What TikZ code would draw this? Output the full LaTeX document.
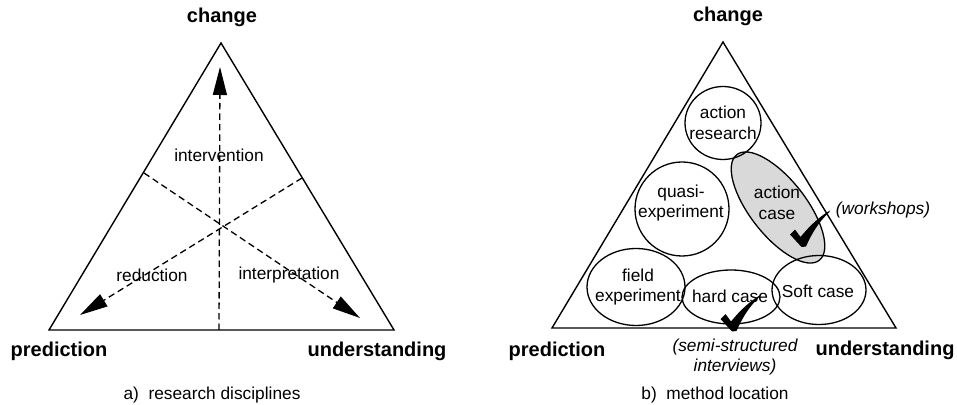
\documentclass[tikz,border=0pt]{standalone}
\usepackage{fontspec}
\setmainfont{Liberation Sans}
\usetikzlibrary{arrows.meta, shapes.geometric}
\tikzset{
    x=1pt, y=1pt,
    pole/.style={font=\fontsize{20}{24}\selectfont\bfseries},
    region/.style={font=\fontsize{17.3}{20.5}\selectfont, align=center, inner sep=0pt},
    note/.style={font=\fontsize{17.3}{20}\selectfont\itshape, align=center, inner sep=0pt},
    method/.style={draw, ellipse, line width=1.3pt, inner sep=0pt},
    side/.style={line width=1.4pt, line join=miter},
    axis/.style={line width=1.3pt, dash pattern=on 6.5pt off 4pt, -{Triangle[length=28pt,width=14pt]}},
    checkmk/.pic={
        \fill (0,0) -- (-11.5,12.5) -- (-6.5,17.5) -- (-1,10)
            .. controls (8,21) and (18,30.5) .. (28.5,36.5)
            -- (27.8,34.8) .. controls (17,25) and (10,13) .. (4.5,0.5) -- cycle;
    },
}

\begin{document}
\begin{tikzpicture}
    \useasboundingbox (0,0) rectangle (957,404);

    % a) research disciplines
    \coordinate (ca) at (221,361);
    \coordinate (cp) at (49,74);
    \coordinate (cu) at (394,74);
    \draw[side] (ca) -- (cp) -- (cu) -- cycle;

    \coordinate (base) at (219,74);
    \coordinate (top) at (220,337);
    \coordinate (sl) at (144,231);
    \coordinate (sr) at (302,226);
    \coordinate (tipu) at (360,86);
    \coordinate (tipp) at (80,89);
    \draw[axis] (base) -- (top);
    \draw[axis] (sl) -- (tipu);
    \draw[axis] (sr) -- (tipp);

    \node[pole] (chg) at (222,387) {change};
    \node[pole] (pred) at (59,53) {prediction};
    \node[pole] (und) at (377,53) {understanding};
    \node[region] (intv) at (219,249) {intervention};
    \node[region] (red) at (152,129) {reduction};
    \node[region] (intp) at (289,129) {interpretation};
    \node[region] (capa) at (212,9) {a)\ \ research disciplines};

    % b) method location
    \coordinate (ma) at (723,362);
    \coordinate (mp) at (552,76);
    \coordinate (mu) at (896,76);
    \draw[side] (ma) -- (mp) -- (mu) -- cycle;

    \node[method, fill=black!15, rotate=-52, minimum width=134pt, minimum height=56pt] (actcase) at (778,196.5) {};
    \node[method, minimum width=76pt, minimum height=73pt] (actres) at (723,281) {};
    \node[method, minimum width=94pt, minimum height=94pt] (quasi) at (682,195) {};
    \node[method, minimum width=98pt, minimum height=77pt] (field) at (636,117) {};
    \node[method, minimum width=98pt, minimum height=54pt] (hard) at (731,107) {};
    \node[method, minimum width=94pt, minimum height=69pt] (soft) at (819,114) {};

    \node[region] at (723,281) {action\\research};
    \node[region] at (681,201) {quasi-\\experiment};
    \node[region] at (777,201) {action\\case};
    \node[region] at (638,117) {field\\experiment};
    \node[region] at (730,108) {hard case};
    \node[region] at (818,113) {Soft case};

    \pic at (801.5,157) {checkmk};
    \pic at (732,72.5) {checkmk};
    \node[note] (wsh) at (883,194) {(workshops)};
    \node[note] (ssi) at (735,47) {(semi-structured\\interviews)};

    \node[pole] (chgb) at (728,388) {change};
    \node[pole] (predb) at (557,53) {prediction};
    \node[pole] (undb) at (885,54) {understanding};
    \node[region] (capb) at (715,9) {b)\ \ method location};
\end{tikzpicture}
\end{document}
